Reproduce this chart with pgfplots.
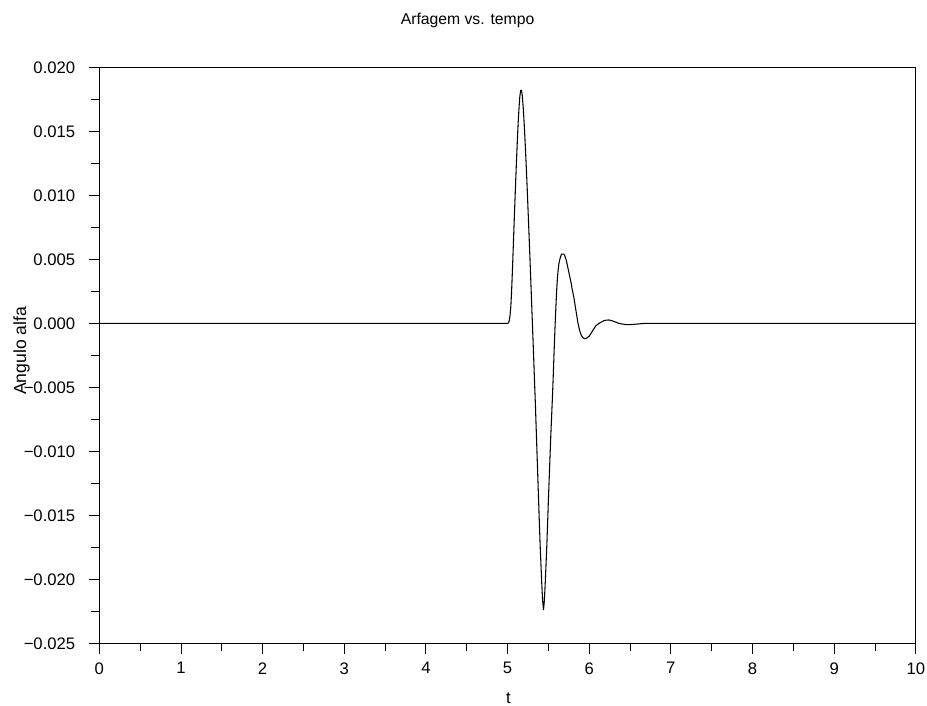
\documentclass[border=0pt]{standalone}
\usepackage{fontspec}
\setmainfont{Liberation Sans}
\usepackage{pgfplots}
\pgfplotsset{compat=1.18}

% angle of attack response
\pgfplotstableread{
t y
0.00 0.0
4.00 0.0
5.00 0.0
5.01 0.00002
5.02 0.0002
5.03 0.0006
5.04 0.0013
5.05 0.0026
5.06 0.0042
5.07 0.0060
5.08 0.0078
5.09 0.0095
5.10 0.0112
5.11 0.0128
5.12 0.0143
5.13 0.0157
5.14 0.0168
5.15 0.0177
5.16 0.0182
5.17 0.0182
5.18 0.0178
5.19 0.0170
5.20 0.0160
5.21 0.0148
5.22 0.0135
5.23 0.0121
5.24 0.0106
5.25 0.0090
5.26 0.0074
5.27 0.0058
5.28 0.0041
5.29 0.0024
5.30 0.0007
5.31 -0.0010
5.32 -0.0027
5.33 -0.0045
5.34 -0.0062
5.35 -0.0081
5.36 -0.0100
5.37 -0.0119
5.38 -0.0138
5.39 -0.0157
5.40 -0.0175
5.41 -0.0190
5.42 -0.0205
5.43 -0.0217
5.44 -0.0224
5.45 -0.0217
5.46 -0.0205
5.47 -0.0190
5.48 -0.0175
5.49 -0.0157
5.50 -0.0138
5.51 -0.0121
5.52 -0.0104
5.53 -0.0087
5.54 -0.0072
5.55 -0.0057
5.56 -0.0040
5.57 -0.0022
5.58 -0.0005
5.59 0.0010
5.60 0.0024
5.61 0.0035
5.62 0.0042
5.63 0.0047
5.64 0.0050
5.65 0.0052
5.66 0.0054
5.67 0.0054
5.68 0.0054
5.69 0.0054
5.70 0.0053
5.71 0.0051
5.72 0.0049
5.73 0.0046
5.74 0.0043
5.75 0.0040
5.76 0.0037
5.77 0.0034
5.78 0.0031
5.79 0.0027
5.80 0.0024
5.81 0.0021
5.82 0.0017
5.83 0.0013
5.84 0.0009
5.85 0.0005
5.86 0.0001
5.87 -0.0002
5.88 -0.0005
5.90 -0.0009
5.92 -0.0011
5.94 -0.0012
5.96 -0.0012
5.98 -0.0011
6.00 -0.0010
6.02 -0.0008
6.04 -0.0006
6.06 -0.0004
6.08 -0.0002
6.10 -0.0001
6.12 0.0000
6.15 0.0001
6.18 0.0002
6.21 0.00025
6.24 0.00026
6.27 0.00022
6.30 0.00015
6.33 0.00008
6.36 0.0000
6.40 -0.00005
6.45 -0.0001
6.50 -0.0001
6.55 -0.00008
6.60 -0.00005
6.65 -0.00002
6.70 0.0
8.00 0.0
10.00 0.0
}\alfadata

\begin{document}
\begin{tikzpicture}
\begin{axis}[
    at={(0,0)}, anchor=south west,
    scale only axis,
    width=612.4pt, height=432pt,
    font=\fontsize{12.5}{15}\selectfont,
    xmin=0, xmax=10, ymin=-0.025, ymax=0.020,
    scaled y ticks=false,
    tick pos=left,
    tick align=outside,
    major tick length=7.9pt,
    minor tick length=6pt,
    axis line style={line width=0.8pt},
    every tick/.style={black, line width=0.7pt},
    xtick={0,1,2,3,4,5,6,7,8,9,10},
    minor x tick num=1,
    ytick={-0.025,-0.02,-0.015,-0.01,-0.005,0,0.005,0.01,0.015,0.02},
    yticklabels={−0.025,−0.020,−0.015,−0.010,−0.005,0.000,0.005,0.010,0.015,0.020},
    minor y tick num=1,
    /pgf/number format/assume math mode=true,
    xticklabel style={anchor=north, inner sep=0pt, yshift=-6.3pt},
    yticklabel style={anchor=east, inner sep=0pt, xshift=-10pt},
    title={Arfagem vs. tempo},
    title style={at={(axis description cs:0.451,1.0613)}, anchor=base, inner sep=0pt, yshift=0pt, font=\fontsize{11.8}{14}\selectfont},
    xlabel={t},
    xlabel style={at={(axis description cs:0.501,-0.1037)}, anchor=base, inner sep=0pt},
    ylabel={Angulo alfa},
    ylabel style={at={(axis description cs:-0.0898,0.5076)}, anchor=base, inner sep=0pt, font=\fontsize{13.2}{15}\selectfont},
    clip=true,
]
\addplot[black, line width=0.8pt, no markers] table[x=t, y=y] {\alfadata};
\end{axis}
\useasboundingbox (-74.5pt,-47pt) rectangle (620.8pt,482.5pt);
\end{tikzpicture}
\end{document}
